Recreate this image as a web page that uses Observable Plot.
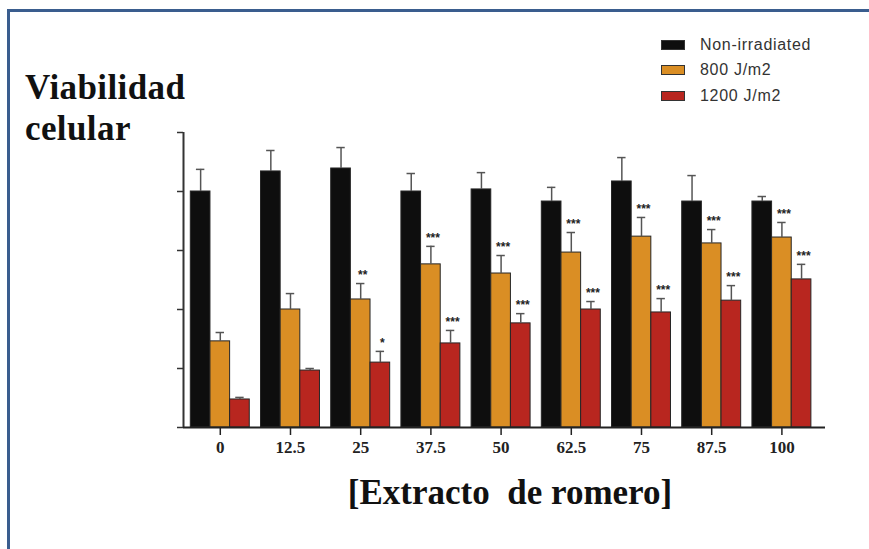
<!DOCTYPE html>
<html>
<head>
<meta charset="utf-8">
<script src="https://cdn.jsdelivr.net/npm/d3@7"></script>
<script src="https://cdn.jsdelivr.net/npm/@observablehq/plot@0.6"></script>
<style>
  html, body { margin: 0; padding: 0; background: #fff; }
  #page { position: relative; width: 869px; height: 549px; overflow: hidden; background: #fff; }
  #frame { position: absolute; left: 7px; top: 9px; right: -20px; bottom: -20px;
           border-left: 3px solid #3a5d8e; border-top: 3px solid #3a5d8e; }
  #chart { position: absolute; left: 0; top: 0; }
  .ytitle { position: absolute; left: 25px; top: 67px; font-family: "Liberation Serif", serif;
            font-weight: bold; font-size: 35px; line-height: 41px; color: #111; letter-spacing: 0.4px; }
  .xtitle { position: absolute; left: 0; width: 1020px; top: 473px; text-align: center;
            font-family: "Liberation Serif", serif; font-weight: bold; font-size: 35px;
            color: #111; white-space: pre; }
  #legend { position: absolute; left: 661px; top: 32px; font-family: "Liberation Sans", Arial, sans-serif;
            font-size: 16px; color: #333; letter-spacing: 0.7px; }
  .li { display: flex; align-items: center; height: 25.5px; }
  .sw { width: 24px; height: 10px; margin-right: 15px; box-sizing: border-box; border: 1px solid #333; }
</style>
</head>
<body>
<div id="page">
  <div id="frame"></div>
  <div id="chart"></div>
  <div class="ytitle">Viabilidad<br>celular</div>
  <div class="xtitle">[Extracto  de romero]</div>
  <div id="legend"></div>
</div>
<script>
const concentrations = ["0", "12.5", "25", "37.5", "50", "62.5", "75", "87.5", "100"];
const series = ["Non-irradiated", "800 J/m2", "1200 J/m2"];
const seriesColors = ["#0e0e0e", "#da8e24", "#b8261f"];

const nonIrradiated    = [80.0, 86.8, 87.8, 80.0, 80.7, 76.6, 83.4, 76.6, 76.6];
const nonIrradiatedErr = [7.5, 7.1, 7.1, 6.1, 5.7, 4.8, 8.1, 8.8, 1.7];
const j800    = [29.2, 40.0, 43.4, 55.3, 52.2, 59.3, 64.7, 62.4, 64.4];
const j800Err = [3.0, 5.4, 5.4, 6.1, 6.1, 6.8, 6.5, 4.7, 5.1];
const j1200    = [9.5, 19.3, 22.0, 28.5, 35.3, 40.0, 39.0, 43.0, 50.2];
const j1200Err = [0.7, 0.7, 3.8, 4.4, 3.3, 2.7, 4.7, 5.1, 5.1];
const sig800  = ["", "", "**", "***", "***", "***", "***", "***", "***"];
const sig1200 = ["", "", "*", "***", "***", "***", "***", "***", "***"];
const sigNon  = ["", "", "", "", "", "", "", "", ""];

const yTicks = [0, 20, 40, 60, 80, 100];

const values = [nonIrradiated, j800, j1200];
const errs = [nonIrradiatedErr, j800Err, j1200Err];
const sigs = [sigNon, sig800, sig1200];

const barW = 0.28;
const rows = concentrations.flatMap((c, i) => series.map((s, k) => ({
  i, k, conc: c, series: s, value: values[k][i], err: errs[k][i], sig: sigs[k][i],
  x1: i + (k - 1.5) * barW, x2: i + (k - 0.5) * barW, xc: i + (k - 1) * barW
})));

const xMin = -0.524, xMax = 8.621;

const plot = Plot.plot({
  width: 869, height: 549,
  marginLeft: 183, marginRight: 44, marginTop: 132, marginBottom: 122,
  style: { fontFamily: "Liberation Serif", background: "transparent" },
  x: { type: "linear", domain: [xMin, xMax], axis: null },
  y: { domain: [0, 100], axis: null },
  color: { domain: series, range: seriesColors },
  marks: [
    Plot.axisY({ ticks: yTicks, tickSize: 6, tickFormat: () => "", label: null, stroke: "#333", strokeWidth: 1.5 }),
    Plot.ruleX([xMin], { y1: 0, y2: 100, stroke: "#333", strokeWidth: 2 }),
    Plot.rectY(rows, { x1: "x1", x2: "x2", y1: 0, y2: "value", fill: "series", stroke: "#262626", strokeWidth: 1 }),
    Plot.ruleX(rows, { x: "xc", y1: "value", y2: d => d.value + d.err, stroke: "#555", strokeWidth: 1.5 }),
    Plot.ruleY(rows, { y: d => d.value + d.err, x1: d => d.xc - 0.06, x2: d => d.xc + 0.06, stroke: "#555", strokeWidth: 1.5 }),
    Plot.text(rows.filter(d => d.sig), { x: "xc", y: d => d.value + d.err, text: "sig", dy: -8, dx: 2,
      fontFamily: "Liberation Sans", fontSize: 12, fontWeight: "bold", fill: "#222" }),
    Plot.ruleY([0], { stroke: "#222", strokeWidth: 2 }),
    Plot.axisX({ ticks: d3.range(concentrations.length), tickFormat: i => concentrations[i], label: null,
      tickSize: 8, tickPadding: 5, fontSize: 17, fontWeight: "bold", stroke: "#222", strokeWidth: 1.5, fill: "#222" })
  ]
});
document.getElementById("chart").appendChild(plot);

const legend = document.getElementById("legend");
series.forEach((s, k) => {
  const row = document.createElement("div");
  row.className = "li";
  const sw = document.createElement("div");
  sw.className = "sw";
  sw.style.background = seriesColors[k];
  const t = document.createElement("span");
  t.textContent = s;
  row.appendChild(sw);
  row.appendChild(t);
  legend.appendChild(row);
});
</script>
</body>
</html>
